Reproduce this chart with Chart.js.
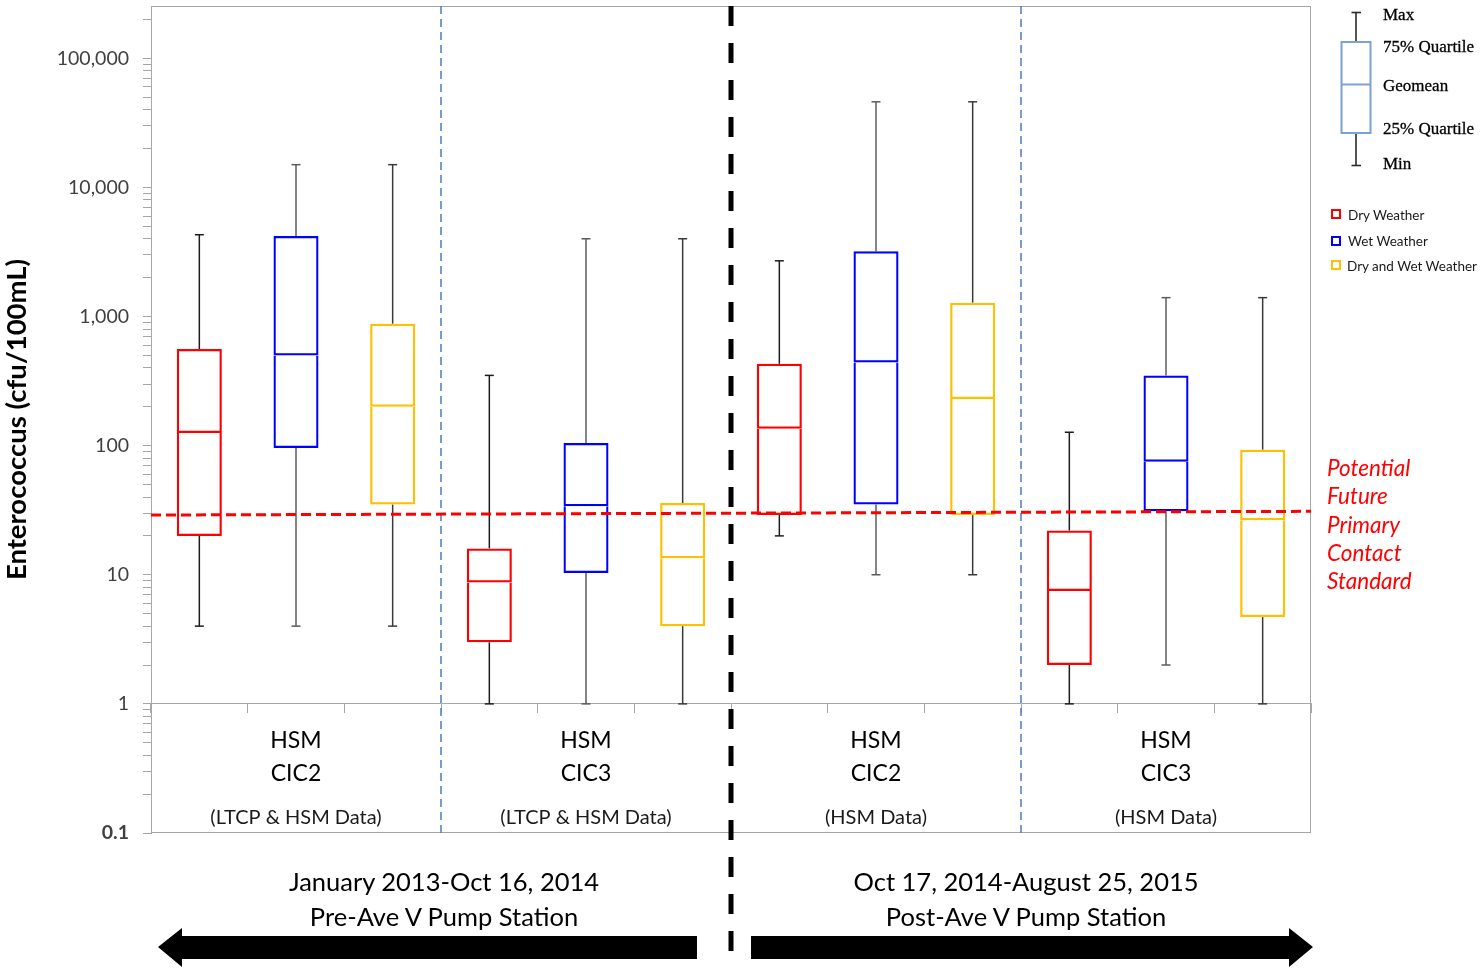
<!DOCTYPE html>
<html>
<head>
<meta charset="utf-8">
<title>Enterococcus at HSM CIC2 and CIC3, before and after the Ave V Pump Station</title>
<script src="https://cdn.jsdelivr.net/npm/chart.js@4.4.1/dist/chart.umd.min.js"></script>
<style>
  html, body { margin: 0; padding: 0; background: #fff; }
  #wrap { position: relative; width: 1480px; height: 975px; overflow: hidden; font-family: Lato, "Noto Sans", sans-serif; }
  #chart { position: absolute; left: 0; top: 0; }
  .abs { position: absolute; white-space: nowrap; }
  .key { filter: blur(0.45px); }
  .key-text { font-family: "Liberation Serif", "DejaVu Serif", serif; font-size: 17px; line-height: 20px; color: #000; -webkit-text-stroke: 0.3px #000; }
  .swatch { position: absolute; width: 6px; height: 6px; border: 2px solid; }
  .legend-text { font-size: 13.5px; line-height: 16px; color: #1a1a1a; }
  .standard { left: 1327px; top: 454px; font-style: italic; font-size: 22.5px; line-height: 28.3px; color: #ff0000; }
  .period { width: 440px; text-align: center; font-size: 25.5px; line-height: 35px; color: #000; top: 864px; }
</style>
</head>
<body>
<div id="wrap">
  <canvas id="chart" width="1480" height="975"></canvas>

  <!-- box-plot key -->
  <svg class="abs key" style="left:1330px; top:0px" width="50" height="180">
    <g stroke="#2b2b2b" stroke-width="1.6">
      <line x1="26" y1="12.5" x2="26" y2="42"/>
      <line x1="21.5" y1="12.5" x2="31" y2="12.5"/>
      <line x1="26" y1="133" x2="26" y2="165.5"/>
      <line x1="21.5" y1="165.5" x2="31" y2="165.5"/>
    </g>
    <rect x="11.5" y="42" width="29" height="91" fill="none" stroke="#7aa2d4" stroke-width="2"/>
    <line x1="11.5" y1="84.5" x2="40.5" y2="84.5" stroke="#7aa2d4" stroke-width="2"/>
  </svg>
  <div class="abs key key-text" style="left:1383px; top:5px">Max</div>
  <div class="abs key key-text" style="left:1383px; top:37px">75% Quartile</div>
  <div class="abs key key-text" style="left:1383px; top:76px">Geomean</div>
  <div class="abs key key-text" style="left:1383px; top:119px">25% Quartile</div>
  <div class="abs key key-text" style="left:1383px; top:154px">Min</div>

  <!-- series legend -->
  <div class="swatch" style="left:1331px; top:209px; border-color:#ff0000"></div>
  <div class="abs legend-text" style="left:1348px; top:207px">Dry Weather</div>
  <div class="swatch" style="left:1331px; top:236px; border-color:#0000ff"></div>
  <div class="abs legend-text" style="left:1348px; top:233px">Wet Weather</div>
  <div class="swatch" style="left:1331px; top:260px; border-color:#ffc000"></div>
  <div class="abs legend-text" style="left:1347px; top:258px">Dry and Wet Weather</div>

  <!-- standard line label -->
  <div class="abs standard">Potential<br>Future<br>Primary<br>Contact<br>Standard</div>

  <!-- period captions and arrows -->
  <div class="abs period" style="left:224px">January 2013-Oct 16, 2014<br>Pre-Ave V Pump Station</div>
  <div class="abs period" style="left:806px">Oct 17, 2014-August 25, 2015<br>Post-Ave V Pump Station</div>
  <svg class="abs" style="left:0; top:0; pointer-events:none" width="1480" height="975">
    <polygon fill="#000" points="158,947 182,928 182,936 697,936 697,959 182,959 182,967"/>
    <polygon fill="#000" points="751,936 1289,936 1289,928 1313,947 1289,967 1289,959 751,959"/>
  </svg>
</div>

<script>
// ---- site groups and series ----
const groupNames = [['HSM', 'CIC2'], ['HSM', 'CIC3'], ['HSM', 'CIC2'], ['HSM', 'CIC3']];
const groupSources = ['(LTCP & HSM Data)', '(LTCP & HSM Data)', '(HSM Data)', '(HSM Data)'];
const seriesNames = ['Dry Weather', 'Wet Weather', 'Dry and Wet Weather'];
const periodNames = ['Pre-Ave V Pump Station', 'Post-Ave V Pump Station'];
const firstPostGroup = 2;

// ---- Enterococcus (cfu/100mL), one value per site group ----
const dryMax     = [4300, 350, 2700, 127];
const dryQ3      = [560, 16, 430, 22];
const dryGeomean = [125, 8.7, 135, 7.5];
const dryQ1      = [20, 3, 29, 2];
const dryMin     = [4, 1, 20, 1];

const wetMax     = [15000, 4000, 46000, 1400];
const wetQ3      = [4200, 105, 3200, 350];
const wetGeomean = [500, 34, 440, 75];
const wetQ1      = [96, 10.3, 35, 31];
const wetMin     = [4, 1, 10, 2];

const allMax     = [15000, 4000, 46000, 1400];
const allQ3      = [880, 36, 1280, 93];
const allGeomean = [200, 13.4, 230, 26.4];
const allQ1      = [35, 4, 29, 4.7];
const allMin     = [4, 1, 10, 1];

// potential future primary contact standard, at the left and right ends of the plot
const standardLine = [29, 31];

// ---- value axis ----
const yMin = 0.1;
const yMax = 254000;
const yDecades = [0.1, 1, 10, 100, 1000, 10000, 100000];
const yDecadeLabels = ['0.1', '1', '10', '100', '1,000', '10,000', '100,000'];

// ---------------------------------------------------------------
const perGroup = seriesNames.length;
const slotLabels = groupNames.flatMap((g, gi) =>
  seriesNames.map(s => g.join(' ') + ' ' + groupSources[gi] + ' - ' + s + ' (' + periodNames[gi < firstPostGroup ? 0 : 1] + ')'));

const yTickValues = [];
yDecades.forEach(d => {
  for (let m = 1; m <= 9; m++) {
    const v = m * d;
    if (v <= yMax) yTickValues.push(v);
  }
});

const stats = [
  { min: dryMin, q1: dryQ1, mid: dryGeomean, q3: dryQ3, max: dryMax },
  { min: wetMin, q1: wetQ1, mid: wetGeomean, q3: wetQ3, max: wetMax },
  { min: allMin, q1: allQ1, mid: allGeomean, q3: allQ3, max: allMax }
];
const boxColors = ['#ff0000', '#0000ff', '#ffc000'];
const whiskerColors = ['#1c1c1c', '#5c5c5c', '#3a3a3a'];

// place one series' per-group values into its slot of the 12 categories
function toSlots(s, pick) {
  const out = slotLabels.map(() => null);
  groupNames.forEach((_, g) => { out[g * perGroup + s] = pick(g); });
  return out;
}

const datasets = [];
datasets.push({
  type: 'line', label: 'Potential Future Primary Contact Standard',
  xAxisID: 'xl', yAxisID: 'y',
  data: [{ x: 0, y: standardLine[0] }, { x: slotLabels.length, y: standardLine[1] }],
  borderColor: '#ff0000', borderWidth: 3, borderDash: [10, 5],
  pointRadius: 0, fill: false, order: 0
});

stats.forEach((st, s) => {
  const boxBase = {
    type: 'bar', xAxisID: 'x', yAxisID: 'y', grouped: false,
    categoryPercentage: 1, barPercentage: 0.466,
    backgroundColor: 'rgba(0,0,0,0)', borderColor: boxColors[s],
    borderWidth: 2.25, inflateAmount: 0, order: 1
  };
  datasets.push({ ...boxBase, label: seriesNames[s] + ' 25%-geomean',
    data: toSlots(s, g => [st.q1[g], st.mid[g]]), borderSkipped: 'top' });
  datasets.push({ ...boxBase, label: seriesNames[s] + ' geomean-75%',
    data: toSlots(s, g => [st.mid[g], st.q3[g]]), borderSkipped: false });

  const whiskerBase = {
    type: 'bar', xAxisID: 'x', yAxisID: 'y', grouped: false,
    barThickness: 1.5, backgroundColor: whiskerColors[s],
    borderWidth: 0, inflateAmount: 0, order: 2
  };
  datasets.push({ ...whiskerBase, label: seriesNames[s] + ' lower whisker',
    data: toSlots(s, g => [st.min[g], st.q1[g]]) });
  datasets.push({ ...whiskerBase, label: seriesNames[s] + ' upper whisker',
    data: toSlots(s, g => [st.q3[g], st.max[g]]) });

  const capBase = {
    type: 'line', xAxisID: 'x', yAxisID: 'y', showLine: false,
    pointStyle: 'line', pointRadius: 4.5, pointBorderWidth: 1.5,
    pointBorderColor: whiskerColors[s], order: 2
  };
  datasets.push({ ...capBase, label: seriesNames[s] + ' max', data: toSlots(s, g => st.max[g]) });
  datasets.push({ ...capBase, label: seriesNames[s] + ' min', data: toSlots(s, g => st.min[g]) });
});

// outline of the plot area
const plotFrame = {
  id: 'plotFrame',
  beforeDatasetsDraw(chart) {
    const { ctx, chartArea: a } = chart;
    ctx.save();
    ctx.strokeStyle = '#a6a6a6';
    ctx.lineWidth = 1;
    const l = Math.round(a.left) + 0.5, t = Math.round(a.top) + 0.5;
    const r = Math.round(a.right) - 0.5, b = Math.round(a.bottom) - 0.5;
    ctx.strokeRect(l, t, r - l, b - t);
    ctx.restore();
  }
};

// dashed separators between site groups; the heavy one marks the pump station start
const groupDividers = {
  id: 'groupDividers',
  beforeDatasetsDraw(chart) {
    const { ctx, chartArea: a, scales } = chart;
    ctx.save();
    for (let g = 1; g < groupNames.length; g++) {
      const x = scales.xl.getPixelForValue(g * perGroup);
      ctx.beginPath();
      if (g === firstPostGroup) {
        ctx.strokeStyle = '#000';
        ctx.lineWidth = 5;
        ctx.setLineDash([20, 17]);
        ctx.moveTo(x, a.top);
        ctx.lineTo(x, a.bottom + 122);
      } else {
        ctx.strokeStyle = '#4a7ebb';
        ctx.lineWidth = 1.5;
        ctx.setLineDash([8, 5]);
        ctx.moveTo(x, a.top);
        ctx.lineTo(x, a.bottom);
      }
      ctx.stroke();
    }
    ctx.restore();
  }
};

new Chart(document.getElementById('chart'), {
  type: 'bar',
  data: { labels: slotLabels, datasets },
  options: {
    responsive: false,
    animation: false,
    events: [],
    layout: { padding: { left: 0, top: 5, right: 169, bottom: 142 } },
    plugins: { legend: { display: false }, tooltip: { enabled: false } },
    scales: {
      x: {
        type: 'category', axis: 'x', position: { y: 1 }, offset: true,
        grid: { display: true, offset: true, drawOnChartArea: false, drawTicks: true, tickLength: 9, color: '#a6a6a6' },
        border: { display: true, color: '#a6a6a6' },
        ticks: { display: false }
      },
      xg: {
        type: 'category', axis: 'x', labels: groupNames, position: { y: 1 }, offset: true,
        grid: { display: false, drawTicks: false }, border: { display: false },
        ticks: { padding: 20.5, autoSkip: false, maxRotation: 0, color: '#000',
                 font: { family: 'Lato', size: 23, lineHeight: 1.435 } }
      },
      xs: {
        type: 'category', axis: 'x', labels: groupSources, position: { y: 1 }, offset: true,
        grid: { display: false, drawTicks: false }, border: { display: false },
        ticks: { padding: 101.5, autoSkip: false, maxRotation: 0, color: '#1a1a1a',
                 font: { family: 'Lato', size: 20, lineHeight: 1.2 } }
      },
      xl: { type: 'linear', axis: 'x', min: 0, max: slotLabels.length, offset: false, display: false },
      y: {
        type: 'logarithmic', position: 'left', min: yMin, max: yMax,
        afterBuildTicks(scale) { scale.ticks = yTickValues.map(v => ({ value: v })); },
        afterFit(scale) { scale.width = 151; scale.paddingTop = 0; scale.paddingBottom = 0; },
        grid: { display: true, drawOnChartArea: false, drawTicks: true, tickLength: 8, color: '#a6a6a6' },
        border: { display: true, color: '#a6a6a6' },
        ticks: {
          autoSkip: false, padding: 14, color: '#404040',
          font: c => ({ family: 'Lato', size: 19.5, weight: (c.tick && c.tick.value === yMin) ? 'bold' : 'normal' }),
          callback: v => { const i = yDecades.indexOf(v); return i >= 0 ? yDecadeLabels[i] : ''; }
        },
        title: {
          display: true, text: 'Enterococcus (cfu/100mL)', color: '#000',
          font: { family: 'Lato', size: 27.5, weight: 'bold' }, padding: { top: 1, bottom: 0 }
        }
      }
    }
  },
  plugins: [plotFrame, groupDividers]
});
</script>
</body>
</html>
